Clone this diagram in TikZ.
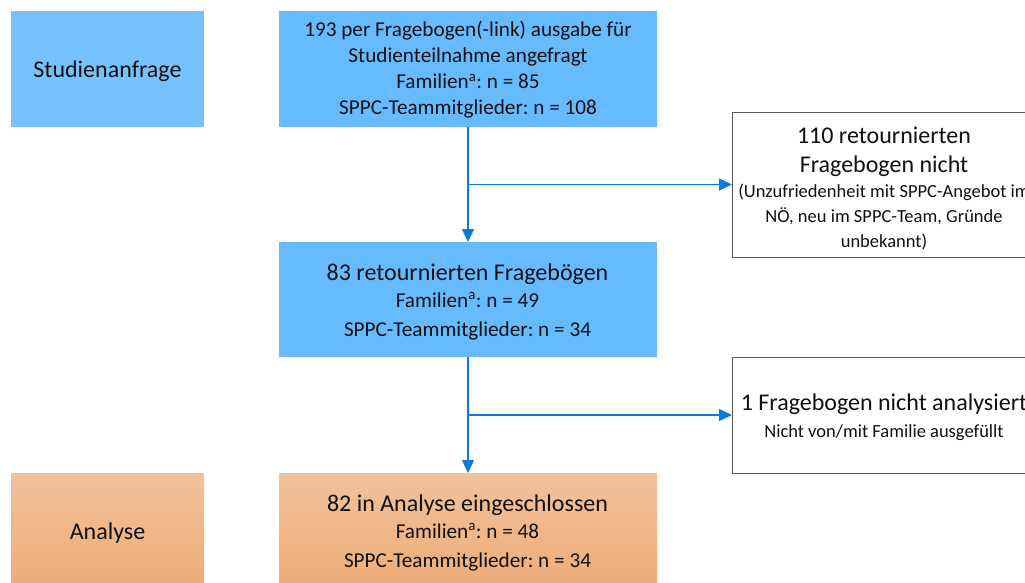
\documentclass[tikz,border=0pt]{standalone}
\usepackage{fontspec}
\setmainfont{Carlito}
\usetikzlibrary{arrows.meta,calc}
\definecolor{bluemain}{HTML}{66BBFF}
\definecolor{blueleft}{HTML}{75C2FF}
\definecolor{orangetop}{HTML}{F2C29B}
\definecolor{orangebot}{HTML}{EDAD79}
\definecolor{arrowblue}{HTML}{0A7BD9}
\definecolor{framegray}{HTML}{595959}
\definecolor{textdark}{HTML}{111111}
\frenchspacing
\begin{document}
\begin{tikzpicture}[x=1pt,y=-1pt,
  boxbase/.style={rectangle, inner sep=0pt, outer sep=0pt},
  bluebox/.style={boxbase, fill=bluemain, minimum width=378pt, minimum height=#1},
  leftblue/.style={boxbase, fill=blueleft, minimum width=193pt, minimum height=116pt},
  orangebox/.style={boxbase, top color=orangetop, bottom color=orangebot, minimum width=#1, minimum height=110pt},
  whitebox/.style={boxbase, fill=white, draw=framegray, line width=0.9pt, minimum width=304pt, minimum height=#1},
  txt/.style={anchor=base, inner sep=0pt, text=textdark},
  big/.style={txt, font=\fontsize{24}{28}\selectfont},
  mid/.style={txt, font=\fontsize{21.2}{25}\selectfont},
  small/.style={txt, font=\fontsize{18.5}{22}\selectfont},
  conn/.style={draw=arrowblue, line width=1.3pt, -{Triangle[length=13pt,width=12pt]}}
]
\useasboundingbox (0,0) rectangle (1025,583);
\clip (0,0) rectangle (1025,583);
\fill[white] (0,0) rectangle (1025,583);

% boxes
\node[leftblue] (sa) at (107.5,69) {};
\node[bluebox=116pt] (b1) at (468,69) {};
\node[bluebox=115pt] (b2) at (468,299.5) {};
\node[orangebox=378pt] (b3) at (468,528) {};
\node[orangebox=193pt] (an) at (107.5,528) {};
\node[whitebox=145pt] (r1) at (884,184.5) {};
\node[whitebox=116pt] (r2) at (884,415) {};

% connectors
\draw[conn] (b1.south) -- (b2.north);
\coordinate (j1) at ($(b1.south)!0.5!(b2.north)$);
\draw[conn] (j1) -- (j1 -| r1.west);
\draw[conn] (b2.south) -- (b3.north);
\coordinate (j2) at ($(b2.south)!0.5!(b3.north)$);
\draw[conn] (j2) -- (j2 -| r2.west);

% texts
\node[big] (sat) at (107.5,77.3) {Studienanfrage};
\node[big] (ant) at (107.5,539) {Analyse};

\node[mid] (b1a) at (468,37) {193 per Fragebogen(-link) ausgabe für};
\node[mid] (b1b) at (468,63) {Studienteilnahme angefragt};
\node[mid] (b1c) at (468,89) {Familien\textsuperscript{a}: n = 85};
\node[mid] (b1d) at (468,115) {SPPC-Teammitglieder: n = 108};

\node[big] (b2a) at (467.5,280) {83 retournierten Fragebögen};
\node[mid] (b2b) at (467.5,307) {Familien\textsuperscript{a}: n = 49};
\node[mid] (b2c) at (467.5,336) {SPPC-Teammitglieder: n = 34};

\node[big] (b3a) at (467.5,511) {82 in Analyse eingeschlossen};
\node[mid] (b3b) at (467.5,538) {Familien\textsuperscript{a}: n = 48};
\node[mid] (b3c) at (467.5,567) {SPPC-Teammitglieder: n = 34};

\node[big] (r1a) at (884,143) {110 retournierten};
\node[big] (r1b) at (884,172) {Fragebogen nicht};
\node[small] (r1c) at (884,197) {(Unzufriedenheit mit SPPC-Angebot im};
\node[small] (r1d) at (884,222.5) {NÖ, neu im SPPC-Team, Gründe};
\node[small] (r1e) at (884,247) {unbekannt)};

\node[big] (r2a) at (884,410) {1 Fragebogen nicht analysiert};
\node[small] (r2b) at (884,437) {Nicht von/mit Familie ausgefüllt};
\end{tikzpicture}
\end{document}
